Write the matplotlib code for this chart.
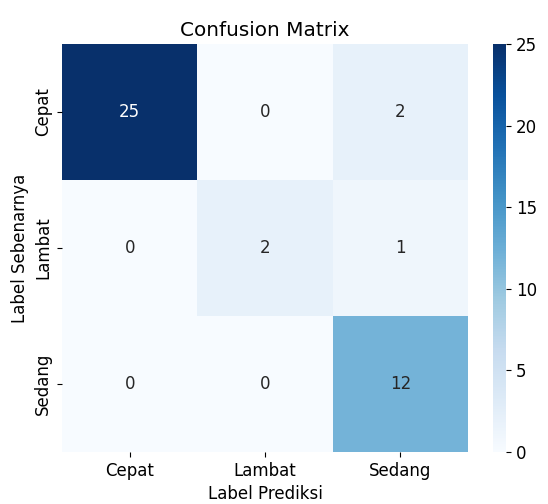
import numpy as np
import matplotlib
matplotlib.use('Agg')
import matplotlib.pyplot as plt
import seaborn as sns

# Confusion matrix values
labels = ['Cepat', 'Lambat', 'Sedang']
cm = np.array([[25, 0, 2],
               [0, 2, 1],
               [0, 0, 12]])

plt.rcParams.update({'font.size': 12})

fig = plt.figure(figsize=(5.48, 5.04), dpi=100)
ax = fig.add_axes([62 / 548, 52 / 504, 406 / 548, 408 / 504])
cax = fig.add_axes([493 / 548, 52 / 504, 13 / 548, 408 / 504])

sns.heatmap(cm, annot=True, fmt='d', cmap='Blues',
            xticklabels=labels, yticklabels=labels,
            annot_kws={'fontsize': 12},
            ax=ax, cbar_ax=cax)

ax.set_title('Confusion Matrix', fontsize=14.4)
ax.set_xlabel('Label Prediksi', fontsize=12)
ax.set_ylabel('Label Sebenarnya', fontsize=12)
ax.tick_params(axis='both', labelsize=12)
ax.tick_params(axis='y', rotation=90)
cax.tick_params(labelsize=12)

fig.savefig('out.png', dpi=100)
